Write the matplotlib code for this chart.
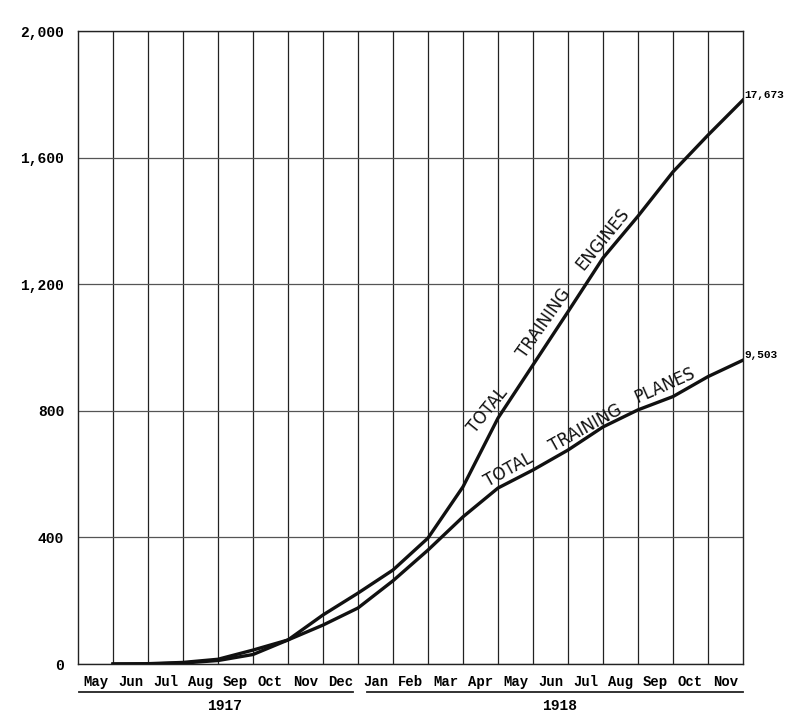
import matplotlib
matplotlib.use("Agg")
import matplotlib.pyplot as plt
from matplotlib.transforms import blended_transform_factory

# ---- data ----
months = ["May", "Jun", "Jul", "Aug", "Sep", "Oct", "Nov", "Dec",
          "Jan", "Feb", "Mar", "Apr", "May", "Jun", "Jul", "Aug", "Sep", "Oct", "Nov"]
years = ["1917", "1918"]
year_spans = [(0.03, 7.86), (8.26, 19.0)]
year_centres = [4.19, 13.76]
engines = [0, 1, 5, 15, 44, 76, 155, 224, 297, 398, 560, 777, 945, 1113,
           1283, 1415, 1555, 1671, 1782]
planes = [0, 0, 3, 11, 30, 76, 123, 177, 263, 360, 465, 556, 613, 676,
          749, 803, 845, 908, 960]
y_ticks = [0, 400, 800, 1200, 1600, 2000]
y_tick_labels = ["0", "400", "800", "1,200", "1,600", "2,000"]
engines_total = "17,673"
planes_total = "9,503"

mono = "Liberation Mono"

fig = plt.figure(figsize=(8, 7.26), dpi=100)
ax = fig.add_axes([78 / 800, 62 / 726, 665 / 800, 633 / 726])

xs = [i + 1 for i in range(len(months))]
ax.plot(xs, engines, color="#111111", lw=2.4, solid_joinstyle="round", zorder=3)
ax.plot(xs, planes, color="#111111", lw=2.4, solid_joinstyle="round", zorder=3)

ax.set_xlim(0, len(months))
ax.set_ylim(0, 2000)

# month labels at column centres, gridlines at month boundaries
ax.set_xticks([i + 0.5 for i in range(len(months))])
ax.set_xticklabels(months, fontfamily=mono, fontweight="bold", fontsize=10)
ax.set_xticks(range(1, len(months)), minor=True)
ax.tick_params(axis="x", which="both", length=0, pad=8)
ax.grid(axis="x", which="minor", color="#222222", lw=0.9)

ax.set_yticks(y_ticks)
ax.set_yticklabels(y_tick_labels, fontfamily=mono, fontweight="bold", fontsize=10.5)
ax.tick_params(axis="y", length=0, pad=10)
ax.grid(axis="y", which="major", color="#555555", lw=0.9)
ax.set_axisbelow(True)
for s in ax.spines.values():
    s.set_color("#222222")
    s.set_linewidth(1.0)

# year underlines and labels
tr = blended_transform_factory(ax.transData, ax.transAxes)
for (a, b), c, yr in zip(year_spans, year_centres, years):
    ax.plot([a, b], [-0.044, -0.044], transform=tr, color="#222222", lw=1.3,
            clip_on=False)
    ax.text(c, -0.066, yr, transform=tr, ha="center", va="center",
            fontfamily=mono, fontweight="bold", fontsize=10.5)

# inline labels
lab = dict(fontfamily="DejaVu Sans", fontsize=12, ha="center", va="center",
           rotation_mode="anchor", color="#111111")
ax.text(11.72, 800, "TOTAL", rotation=51, **lab)
ax.text(13.30, 1078, "TRAINING", rotation=55, **lab)
ax.text(15.00, 1342, "ENGINES", rotation=51, **lab)
ax.text(12.31, 612, "TOTAL", rotation=29, **lab)
ax.text(14.51, 746, "TRAINING", rotation=29, **lab)
ax.text(16.77, 882, "PLANES", rotation=24, **lab)

# end totals
ax.text(len(months) + 0.05, engines[-1], engines_total, ha="left", va="bottom",
        fontfamily=mono, fontweight="bold", fontsize=8, clip_on=False)
ax.text(len(months) + 0.05, planes[-1], planes_total, ha="left", va="bottom",
        fontfamily=mono, fontweight="bold", fontsize=8, clip_on=False)

fig.savefig("out.png", dpi=100, facecolor="white")
